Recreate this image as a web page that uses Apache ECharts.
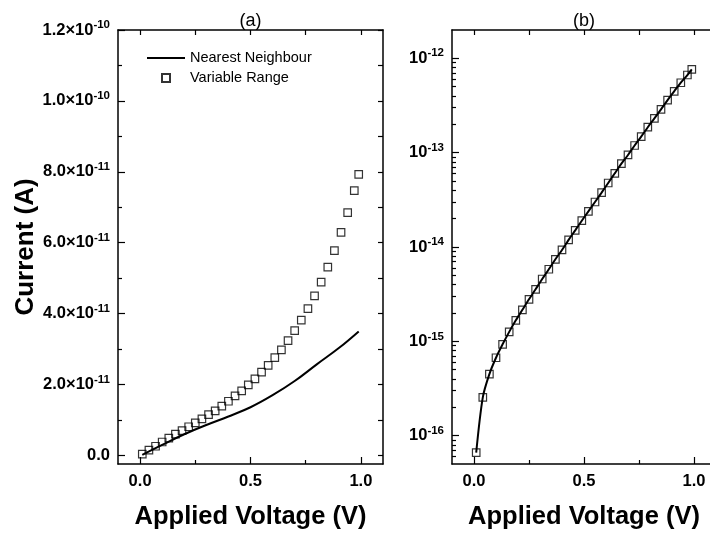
<!DOCTYPE html>
<html><head><meta charset="utf-8">
<script src="https://cdn.jsdelivr.net/npm/echarts@6/dist/echarts.min.js"></script>
<style>html,body{margin:0;padding:0;background:#fff}#c{width:710px;height:536px}</style>
</head><body><div id="c"></div>
<script>
// ---- data ----
const voltage = [0.01,0.04,0.07,0.10,0.13,0.16,0.19,0.22,0.25,0.28,0.31,0.34,0.37,0.40,0.43,0.46,0.49,
                 0.52,0.55,0.58,0.61,0.64,0.67,0.70,0.73,0.76,0.79,0.82,0.85,0.88,0.91,0.94,0.97,0.99];
const vrhCurrent = [0.04e-11,0.15e-11,0.26e-11,0.38e-11,0.49e-11,0.60e-11,0.70e-11,0.81e-11,0.92e-11,1.03e-11,
                    1.15e-11,1.26e-11,1.39e-11,1.53e-11,1.68e-11,1.82e-11,1.99e-11,2.16e-11,2.35e-11,2.54e-11,
                    2.76e-11,2.98e-11,3.24e-11,3.52e-11,3.82e-11,4.14e-11,4.50e-11,4.89e-11,5.31e-11,5.78e-11,
                    6.29e-11,6.85e-11,7.47e-11,7.93e-11];
const nnVoltage = [0.01,0.10,0.20,0.30,0.40,0.50,0.60,0.70,0.80,0.90,0.99];
const nnCurrent = [0.02e-11,0.30e-11,0.60e-11,0.86e-11,1.10e-11,1.36e-11,1.70e-11,2.10e-11,2.57e-11,3.03e-11,3.50e-11];
const logCurrent = [6.6e-17,2.55e-16,4.5e-16,6.7e-16,9.3e-16,1.26e-15,1.67e-15,2.16e-15,2.79e-15,3.56e-15,
                    4.58e-15,5.81e-15,7.41e-15,9.3e-15,1.19e-14,1.50e-14,1.90e-14,2.39e-14,3.0e-14,3.77e-14,
                    4.77e-14,6.04e-14,7.64e-14,9.45e-14,1.19e-13,1.48e-13,1.86e-13,2.31e-13,2.88e-13,3.61e-13,
                    4.47e-13,5.51e-13,6.65e-13,7.64e-13];
// ---- ticks ----
const xMajorTicks = [0, 0.5, 1.0];
const xMinorTicks = [0.25, 0.75];
const yLinMajorTicks = [0, 2e-11, 4e-11, 6e-11, 8e-11, 1.0e-10, 1.2e-10];
const yLinMinorTicks = [1e-11, 3e-11, 5e-11, 7e-11, 9e-11, 1.1e-10];
const yLogMajorTicks = [1e-16, 1e-15, 1e-14, 1e-13, 1e-12];
const yLogMinorTicks = [];
for (let e = -17; e <= -12; e++) for (let m = 2; m <= 9; m++) yLogMinorTicks.push(m * Math.pow(10, e));

const FONT = '"Liberation Sans", Arial, sans-serif';
const lineStyleAx = {color: '#000', width: 1.5};
const tickStyle = {color: '#000', width: 1.2};
const sup = {fontSize: 11.5, fontWeight: 'bold', fontFamily: FONT, color: '#000', verticalAlign: 'top', lineHeight: 11};

function linLabel(v) {
  if (Math.abs(v) < 1e-20) return '0.0';
  const e = Math.floor(Math.log10(v) + 1e-9);
  const m = v / Math.pow(10, e);
  return m.toFixed(1) + '\u00d710{sup|' + e + '}';
}
function logLabel(v) {
  return '10{sup|' + Math.round(Math.log10(v)) + '}';
}
const tickLabelStyle = {fontSize: 16.5, fontWeight: 'bold', fontFamily: FONT, color: '#000'};

function xAxes(grid, title) {
  const base = {gridIndex: grid, type: 'value', min: -0.1, max: 1.1, splitLine: {show: false},
                axisLine: {onZero: false, lineStyle: lineStyleAx}};
  return [
    Object.assign({}, base, {position: 'bottom',
      axisTick: {inside: true, length: 7, customValues: xMajorTicks, lineStyle: tickStyle},
      axisLabel: Object.assign({customValues: xMajorTicks, margin: 9, formatter: v => v.toFixed(1)}, tickLabelStyle),
      name: 'Applied Voltage (V)', nameLocation: 'middle', nameGap: 40,
      nameTextStyle: {fontSize: 25.5, fontWeight: 'bold', fontFamily: FONT, color: '#000'}}),
    Object.assign({}, base, {position: 'bottom', axisLine: {show: false, onZero: false},
      axisTick: {inside: true, length: 4, customValues: xMinorTicks, lineStyle: tickStyle},
      axisLabel: {show: false}}),
    Object.assign({}, base, {position: 'top',
      axisTick: {inside: true, length: 5, customValues: xMajorTicks.concat(xMinorTicks), lineStyle: tickStyle},
      axisLabel: {show: false},
      name: title, nameLocation: 'middle', nameGap: 0,
      nameTextStyle: {fontSize: 18, fontFamily: FONT, color: '#000'}})
  ];
}
function yAxes(grid, isLog) {
  const base = isLog
    ? {gridIndex: grid, type: 'log', logBase: 10, min: Math.pow(10, -16.3), max: Math.pow(10, -11.7)}
    : {gridIndex: grid, type: 'value', min: -2.4e-12, max: 1.2e-10};
  Object.assign(base, {splitLine: {show: false}, minorSplitLine: {show: false},
                       axisLine: {onZero: false, lineStyle: lineStyleAx}});
  const major = isLog ? yLogMajorTicks : yLinMajorTicks;
  const minor = isLog ? yLogMinorTicks : yLinMinorTicks;
  const main = Object.assign({}, base, {position: 'left',
      axisTick: {inside: true, length: 7, customValues: major, lineStyle: tickStyle},
      axisLabel: Object.assign({customValues: major, margin: 8, lineHeight: 22,
        formatter: isLog ? logLabel : linLabel, rich: {sup: sup}}, tickLabelStyle)});
  if (!isLog) {
    Object.assign(main, {name: 'Current (A)', nameLocation: 'middle', nameGap: 77,
      nameTextStyle: {fontSize: 26, fontWeight: 'bold', fontFamily: FONT, color: '#000'}});
  }
  return [
    main,
    Object.assign({}, base, {position: 'left', axisLine: {show: false, onZero: false},
      axisTick: {inside: true, length: 4, customValues: minor, lineStyle: tickStyle},
      axisLabel: {show: false}}),
    Object.assign({}, base, {position: 'right',
      axisTick: {inside: true, length: 5, customValues: isLog ? major : major.concat(minor), lineStyle: tickStyle},
      axisLabel: {show: false}})
  ];
}
const zip = (a, b) => a.map((v, i) => [v, b[i]]);
const squareStyle = {color: 'rgba(255,255,255,0)', borderColor: '#000', borderWidth: 1.2};

const chart = echarts.init(document.getElementById('c'), null, {renderer: 'canvas'});
chart.setOption({
  animation: false,
  backgroundColor: '#fff',
  textStyle: {fontFamily: FONT},
  grid: [
    {left: 118, top: 30, width: 265, height: 434, outerBoundsMode: 'none', containLabel: false},
    {left: 452, top: 30, width: 264, height: 434, outerBoundsMode: 'none', containLabel: false}
  ],
  xAxis: xAxes(0, '(a)').concat(xAxes(1, '(b)')),
  yAxis: yAxes(0, false).concat(yAxes(1, true)),
  legend: {
    data: [
      {name: 'Nearest Neighbour', icon: 'path://M0,0H38V2H0Z'},
      {name: 'Variable Range', icon: 'path://M0,0H10V10H0Z'}
    ],
    orient: 'vertical', left: 147, top: 48, padding: 0, itemGap: 0,
    itemWidth: 38, itemHeight: 8,
    textStyle: {fontSize: 14.5, color: '#000', fontFamily: FONT, lineHeight: 20}
  },
  series: [
    {name: 'Nearest Neighbour', type: 'line', xAxisIndex: 0, yAxisIndex: 0,
     data: zip(nnVoltage, nnCurrent), smooth: 0.4, symbol: 'none',
     lineStyle: {color: '#000', width: 2}, itemStyle: {color: '#000'}},
    {name: 'Variable Range', type: 'scatter', xAxisIndex: 0, yAxisIndex: 0,
     data: zip(voltage, vrhCurrent), symbol: 'rect', symbolSize: 7.5, itemStyle: squareStyle},
    {name: 'b-line', type: 'line', xAxisIndex: 3, yAxisIndex: 3,
     data: zip(voltage, logCurrent), smooth: 0.3, symbol: 'none',
     lineStyle: {color: '#000', width: 2}},
    {name: 'b-points', type: 'scatter', xAxisIndex: 3, yAxisIndex: 3,
     data: zip(voltage, logCurrent), symbol: 'rect', symbolSize: 7.5, itemStyle: squareStyle}
  ]
});
</script></body></html>
